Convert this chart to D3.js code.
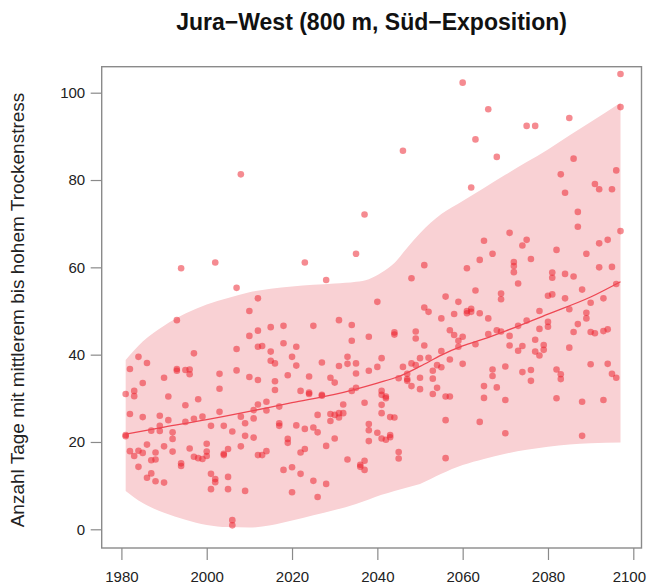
<!DOCTYPE html>
<html>
<head>
<meta charset="utf-8">
<script src="https://cdn.jsdelivr.net/npm/d3@7"></script>
<style>
  body { margin: 0; background: #fff; }
  svg { display: block; font-family: "Liberation Sans", Arial, sans-serif; }
</style>
</head>
<body>
<div id="chart"></div>
<script>
// Axis ticks
const xTicks = [1980, 2000, 2020, 2040, 2060, 2080, 2100];
const yTicks = [0, 20, 40, 60, 80, 100];

// Yearly values [year, days]
const points = [
  [1981,21.6],[1981,21.3],[1981,31.0],[1982,36.7],[1982,26.4],[1982,17.9],[1983,31.7],[1983,30.5],[1983,16.8],
  [1984,39.5],[1984,18.0],[1984,14.3],[1985,33.5],[1985,25.7],[1985,17.5],[1986,38.1],[1986,19.4],[1986,11.8],
  [1987,22.6],[1987,15.8],[1987,12.8],[1988,17.6],[1988,16.0],[1988,11.0],[1989,26.0],[1989,23.7],[1989,22.5],
  [1990,34.7],[1990,19.0],[1990,10.7],[1991,30.4],[1991,25.0],[1992,22.2],[1992,20.7],[1992,17.8],
  [1993,47.9],[1993,36.7],[1993,36.3],[1994,59.8],[1994,15.1],[1994,14.5],[1995,36.5],[1995,28.4],[1995,24.6],
  [1996,36.6],[1996,35.5],[1996,18.5],[1997,40.3],[1997,25.3],[1997,16.6],[1998,29.8],[1998,16.3],
  [1999,25.8],[1999,16.1],[2000,19.6],[2000,17.8],[2000,16.8],[2001,23.7],[2001,12.7],[2001,9.2],
  [2002,61.1],[2002,11.5],[2002,10.8],[2003,35.6],[2003,32.2],[2003,26.9],[2004,23.7],[2004,17.3],[2004,17.0],
  [2005,18.4],[2005,12.0],[2005,9.2],[2006,22.4],[2006,2.1],[2006,0.9],[2007,55.3],[2007,41.3],[2007,36.4],
  [2008,81.3],[2008,25.8],[2008,19.0],[2009,24.3],[2009,21.4],[2009,8.8],[2010,50.0],[2010,44.3],[2010,34.9],
  [2011,27.3],[2011,25.4],[2011,21.0],[2012,52.9],[2012,45.5],[2012,41.8],[2012,34.2],[2012,28.6],[2012,17.0],
  [2013,42.0],[2013,17.0],[2014,29.2],[2014,27.2],[2014,17.9],[2015,46.3],[2015,40.7],[2015,38.6],
  [2016,38.0],[2016,33.9],[2016,31.9],[2017,28.1],[2017,24.3],[2017,23.7],[2018,46.6],[2018,42.6],[2018,13.6],
  [2019,35.3],[2019,20.7],[2019,19.8],[2020,39.5],[2020,14.2],[2020,8.5],[2021,41.8],[2021,37.5],[2021,23.8],
  [2022,31.7],[2022,17.6],[2022,12.7],[2023,61.1],[2023,23.0],[2023,18.4],[2024,35.0],[2024,31.3],[2024,31.0],
  [2025,46.6],[2025,23.3],[2025,11.1],[2026,26.2],[2026,22.2],[2026,7.4],[2027,38.2],[2027,30.8],[2027,30.6],
  [2028,57.1],[2028,19.1],[2028,10.4],[2029,34.7],[2029,26.4],[2029,24.8],[2030,33.6],[2030,26.2],[2030,20.8],
  [2031,47.9],[2031,37.4],[2031,26.6],[2031,25.6],[2032,28.6],[2032,26.6],[2033,39.5],[2033,37.9],[2033,16.0],
  [2034,46.8],[2034,43.2],[2034,31.7],[2035,63.1],[2035,38.0],[2035,35.7],[2035,32.4],[2036,14.3],[2036,14.8],
  [2037,72.1],[2037,29.0],[2037,15.7],[2037,13.6],[2038,44.1],[2038,36.3],[2038,24.1],[2038,22.7],[2038,20.2],
  [2040,52.1],[2040,37.2],[2040,22.1],[2041,39.2],[2041,31.7],[2041,30.8],[2041,28.5],[2041,26.6],[2041,20.8],
  [2042,30.4],[2042,30.0],[2042,20.5],[2043,25.7],[2043,21.1],[2043,21.6],[2044,45.1],[2044,44.6],[2044,25.6],
  [2045,34.6],[2045,17.7],[2045,16.2],[2046,86.7],[2046,37.2],[2047,35.6],[2047,34.4],[2047,34.0],
  [2048,57.5],[2048,38.0],[2048,32.8],[2049,45.3],[2049,43.7],[2049,37.6],[2050,39.2],[2050,34.7],[2050,32.1],
  [2051,60.5],[2051,50.8],[2051,42.1],[2052,49.8],[2052,39.3],[2053,36.3],[2053,34.5],[2053,31.0],
  [2054,37.6],[2054,32.4],[2055,48.3],[2055,40.8],[2055,37.1],[2056,53.3],[2056,30.4],[2056,25.0],[2056,16.3],
  [2057,45.6],[2057,38.9],[2057,30.4],[2058,49.3],[2058,44.5],[2059,52.1],[2059,43.2],[2059,41.8],
  [2060,102.3],[2060,44.1],[2060,37.9],[2061,59.8],[2061,49.5],[2061,50.0],[2062,78.3],[2062,50.5],[2062,49.8],
  [2063,89.3],[2063,54.7],[2063,42.4],[2064,61.7],[2064,49.5],[2064,24.6],[2065,66.1],[2065,32.8],[2065,30.1],
  [2066,96.2],[2066,48.3],[2066,44.7],[2067,63.1],[2067,36.6],[2067,35.1],[2068,85.3],[2068,45.6],[2068,32.5],
  [2069,54.0],[2069,52.7],[2069,45.3],[2070,37.3],[2070,29.6],[2070,22.0],[2071,67.9],[2071,44.3],[2071,42.1],
  [2072,61.2],[2072,60.3],[2072,58.9],[2073,56.3],[2073,46.6],[2073,40.9],[2074,65.0],[2074,42.0],[2074,36.0],
  [2075,92.4],[2075,66.3],[2075,47.8],[2076,61.9],[2076,36.5],[2076,34.0],[2077,92.4],[2077,43.4],[2077,40.7],
  [2078,50.0],[2078,45.9],[2078,39.8],[2079,42.2],[2079,41.1],[2080,53.5],[2080,47.5],[2080,46.4],
  [2081,58.8],[2081,57.6],[2081,53.8],[2082,64.0],[2082,36.6],[2082,30.0],[2083,81.3],[2083,35.5],[2083,34.4],
  [2084,77.1],[2084,58.5],[2084,52.9],[2085,94.2],[2085,50.4],[2085,41.6],[2086,84.9],[2086,57.9],[2086,45.2],
  [2087,72.7],[2087,69.3],[2087,47.0],[2088,54.9],[2088,29.2],[2088,21.4],[2089,63.1],[2089,49.6],[2089,48.3],
  [2090,51.9],[2090,45.2],[2090,37.8],[2091,79.1],[2091,44.9],[2092,77.9],[2092,65.5],[2092,60.0],
  [2093,52.9],[2093,45.4],[2093,29.6],[2094,66.3],[2094,45.8],[2094,37.9],[2095,77.9],[2095,60.1],[2095,35.6],
  [2096,82.2],[2096,56.2],[2096,34.7],[2097,104.3],[2097,96.7],[2097,68.3]
];

// Smoothed trend
const trendYears = [1981, 1990, 2000, 2010, 2020, 2030, 2040, 2045, 2050, 2055, 2060, 2065, 2070, 2080, 2090, 2097];
const trendValues = [21.8, 23.4, 25.1, 27.0, 29.0, 30.9, 33.5, 35.0, 37.3, 39.9, 42.0, 43.6, 45.4, 49.3, 53.2, 56.7];

// Spread band
const bandYears = [1981, 1985, 1990, 1995, 2000, 2005, 2010, 2015, 2020, 2025, 2030, 2035, 2038, 2041, 2044, 2047, 2050, 2055, 2060, 2065, 2070, 2075, 2080, 2085, 2090, 2097];
const bandLower = [8.8, 6.0, 3.8, 2.2, 1.0, 0.5, 0.4, 0.9, 2.0, 3.2, 4.4, 5.8, 6.8, 7.9, 8.8, 9.6, 10.4, 12.7, 14.7, 16.1, 17.3, 18.2, 18.9, 19.4, 19.7, 19.9];
const bandUpper = [38.8, 43.0, 46.6, 49.4, 51.5, 53.0, 54.3, 55.1, 55.6, 56.0, 56.3, 56.7, 57.3, 58.8, 61.0, 64.5, 67.8, 72.2, 75.2, 78.2, 81.2, 84.1, 87.0, 90.2, 93.3, 97.7];

/************************************
 * Draw chart
 ************************************/
const w = 647;
const h = 585;
const box = { left: 101.7, right: 641.5, top: 66.7, bottom: 548 };

const xScale = d3.scaleLinear().domain([1980, 2100]).range([121.4, 633.3]);
const yScale = d3.scaleLinear().domain([0, 100]).range([529.3, 92.7]);

const svg = d3.select("#chart")
  .append("svg")
  .attr("width", w)
  .attr("height", h);

// Band
const band = bandYears.map((y, i) => ({ year: y, lo: bandLower[i], hi: bandUpper[i] }));
svg.append("path")
  .datum(band)
  .attr("fill", "#f9d1d4")
  .attr("d", d3.area()
    .x(d => xScale(d.year))
    .y0(d => yScale(d.lo))
    .y1(d => yScale(d.hi))
    .curve(d3.curveMonotoneX));

// Points
svg.append("g")
  .selectAll("circle")
  .data(points)
  .enter()
  .append("circle")
  .attr("cx", d => xScale(d[0]))
  .attr("cy", d => yScale(d[1]))
  .attr("r", 3.3)
  .attr("fill", "rgba(236, 32, 45, 0.52)");

// Trend line
const trend = trendYears.map((y, i) => [y, trendValues[i]]);
svg.append("path")
  .datum(trend)
  .attr("fill", "none")
  .attr("stroke", "#ee4753")
  .attr("stroke-width", 1.3)
  .attr("d", d3.line()
    .x(d => xScale(d[0]))
    .y(d => yScale(d[1]))
    .curve(d3.curveMonotoneX));

// Box
svg.append("rect")
  .attr("x", box.left)
  .attr("y", box.top)
  .attr("width", box.right - box.left)
  .attr("height", box.bottom - box.top)
  .attr("fill", "none")
  .attr("stroke", "#8a8a8a")
  .attr("stroke-width", 1.4);

// Axes
const xAxis = d3.axisBottom(xScale).tickValues(xTicks).tickSize(12).tickPadding(11).tickFormat(d3.format("d"));
const yAxis = d3.axisLeft(yScale).tickValues(yTicks).tickSize(11).tickPadding(5.5);

const gx = svg.append("g")
  .attr("transform", "translate(0," + box.bottom + ")")
  .call(xAxis);
const gy = svg.append("g")
  .attr("transform", "translate(" + box.left + ",0)")
  .call(yAxis);

[gx, gy].forEach(g => {
  g.select(".domain").remove();
  g.selectAll("line").attr("stroke", "#8a8a8a").attr("stroke-width", 1.2);
  g.selectAll("text")
    .attr("fill", "#222")
    .style("font-size", "15px")
    .style("font-family", "'Liberation Sans', Arial, sans-serif");
});

// keep the last year label inside the page
gx.selectAll("text").each(function() {
  const b = this.getBBox();
  const tx = xScale(d3.select(this).datum());
  const over = tx + b.x + b.width - (w - 1.5);
  if (over > 0) d3.select(this).attr("dx", -over);
});

// Title
svg.append("text")
  .attr("x", (box.left + box.right) / 2)
  .attr("y", 30)
  .attr("text-anchor", "middle")
  .style("font-size", "23px")
  .style("font-weight", "bold")
  .attr("fill", "#111")
  .text("Jura\u2212West (800 m, S\u00fcd\u2212Exposition)");

// Y label
svg.append("text")
  .attr("transform", "translate(24," + 310 + ") rotate(-90)")
  .attr("text-anchor", "middle")
  .style("font-size", "19px")
  .attr("fill", "#222")
  .text("Anzahl Tage mit mittlerem bis hohem Trockenstress");
</script>
</body>
</html>
